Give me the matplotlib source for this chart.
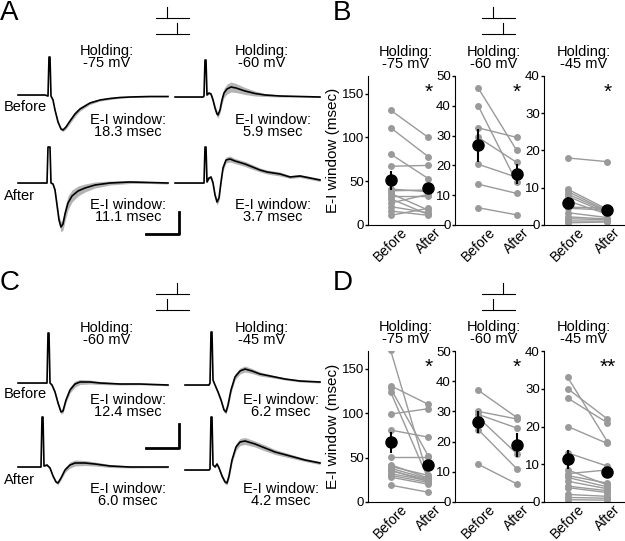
import matplotlib
matplotlib.use('Agg')
import matplotlib.pyplot as plt

plt.rcParams['font.family'] = ['Liberation Sans', 'DejaVu Sans']

W, H = 625, 541
gray = '#9a9a9a'
band = '#b4b4b4'

# ---- example traces (A, C): (time, current, sd), arbitrary units ----
a_before_75 = [(0, 0, .5), (12, 0, .5), (27, 0, .5), (30, -1, .5), (31, 38, .5), (32, 38, .5),
               (33, -1, .5), (35, -5, 1), (37, -15, 1), (40, -27, 1.5), (43, -34, 1.5),
               (45, -35, 1.5), (48, -32, 2), (52, -26, 2.5), (57, -19, 2.5), (62, -14, 2),
               (72, -8, 1.5), (82, -5, 1), (92, -3.5, 1), (102, -2.5, .7), (112, -2, .5),
               (132, -1.5, .5), (150, -1.5, .5)]
a_before_60 = [(0, 0, .5), (15, 0, .5), (28, 0, .5), (29, 1, .5), (30, 37, .5), (31, 37, .5),
               (32, 2, .5), (34, 4, 1), (36, 3, 1), (38, -3, 2), (40, -11, 3), (42, -17, 3),
               (43, -18, 3), (45, -13, 3), (47, -3, 4), (49, 4, 4.5), (52, 8, 5), (56, 10, 5),
               (61, 9, 4.5), (70, 6, 3.5), (80, 3.5, 2.5), (90, 2, 1.5), (105, 1, 1),
               (125, .5, .5), (145, 0, .5)]
a_after_75 = [(0, 0, .5), (12, 0, .5), (27, 0, .5), (29, 0, .5), (30, 36, .5), (32, 36, .5),
              (33, 0, .5), (35, -1, 1), (37, -7, 2), (39, -22, 3), (41, -37, 4), (43, -44, 5),
              (45, -41, 6), (47, -31, 7), (50, -20, 7), (54, -13, 6), (60, -8, 5), (67, -5, 4),
              (77, -2, 3), (92, 0, 2), (112, 1, 1.5), (132, .5, 1), (150, 0, 1)]
a_after_60 = [(0, 0, .5), (15, 0, .5), (28, 0, .5), (29, 0, .5), (30, 36, .5), (31, 36, .5),
              (32, 1, .5), (34, 5, 1), (36, 6, 1.5), (38, 0, 2), (40, -12, 2.5), (42, -19, 3),
              (44, -15, 3), (46, 1, 3), (48, 15, 3), (51, 23, 3), (55, 24, 3), (60, 22, 2.5),
              (70, 19, 2.5), (75, 17, 2.5), (85, 13, 2), (92, 11, 2), (105, 9, 2),
              (115, 6, 1.5), (125, 7, 1.5), (135, 5, 1.5), (145, 3, 1.5)]
c_before_60 = [(0, 0, .5), (12, 0, .5), (27, 0, .5), (29, 0, .5), (30, 50, .5), (31, 50, .5),
               (32, 0, .5), (34, -2, 1), (37, -9, 1.5), (40, -20, 2), (43, -29, 2), (45, -28, 2),
               (48, -17, 2.5), (52, -7, 3), (57, -1, 3), (62, 1, 2.5), (72, 1, 2), (82, 0, 1.5),
               (102, -1, 1), (122, -1, .8), (150, -2, .8)]
c_before_45 = [(0, 0, .5), (15, 0, .5), (24, 0, .5), (25, 2, .5), (26, 53, .5), (27, 53, .5),
               (28, 5, .5), (30, 0, 1), (33, -7, 1.5), (36, -15, 2), (39, -25, 2), (41, -27, 2),
               (43, -20, 2.5), (46, -5, 3), (50, 8, 3), (55, 14, 3), (60, 16, 3), (67, 14, 2.5),
               (75, 11, 2), (85, 9, 1.5), (100, 6, 1), (115, 4, 1), (135, 3, 1)]
c_after_60 = [(0, 0, .5), (12, 0, .5), (22, 0, .5), (23, 0, .5), (24, 50, .5), (25, 50, .5),
              (26, 1, .5), (29, 2, 1), (32, -1, 1), (35, -9, 1.5), (38, -15, 1.5), (40, -16, 1.5),
              (43, -11, 2), (47, -3, 2.5), (52, 2, 3), (57, 4, 3), (67, 4, 2.5), (77, 3, 2),
              (92, 1, 1.5), (112, 0, 1), (132, 0, .8), (150, 0, .8)]
c_after_45 = [(0, 0, .5), (15, 0, .5), (24, 0, .5), (25, 1, .5), (26, 53, .5), (27, 53, .5),
              (28, 5, .5), (30, 3, 1), (32, 6, 1), (34, 2, 1.5), (37, -6, 2), (40, -12, 2),
              (42, -13, 2), (44, -6, 2.5), (47, 10, 3), (51, 23, 3.5), (55, 28, 3.5),
              (60, 29, 3.5), (70, 26, 3), (80, 22, 3), (90, 18, 2.5), (105, 14, 2),
              (120, 10, 1.5), (135, 7, 1.5)]

# ---- paired E-I windows (msec), panels B and D ----
conds = ['Before', 'After']
b75_pre = [131, 111, 81, 67, 41, 39, 36, 33, 30, 25, 21, 16, 11]
b75_post = [100, 78, 53, 68, 38, 40, 17, 33, 12, 35, 14, 11, 19]
b60_pre = [46, 40, 32.6, 29.4, 20.4, 13.7, 5.8]
b60_post = [25, 14.3, 29.4, 21, 16, 10.6, 3.4]
b45_pre = [18, 9.6, 9.0, 8.3, 7.7, 6.5, 4.8, 4.5, 3.3, 2.2, 1.7, 1.1, 0.6]
b45_post = [17, 4.2, 3.8, 3.6, 3.2, 2.9, 4.5, 4.0, 2.0, 1.6, 1.4, 1.0, 0.8]
d75_pre = [171, 131, 128, 124, 99, 81, 51, 42, 40, 38, 35, 32, 30, 19, 36, 28]
d75_post = [28, 110, 52, 26, 105, 73, 51, 27, 30, 26, 25, 24, 22, 11, 23, 20]
d60_pre = [37, 30, 29, 28, 24, 12.5]
d60_post = [28, 27.5, 24.5, 16, 11, 6]
d45_pre = [33, 30, 27.5, 20, 13, 8.5, 7.5, 7, 6.5, 5.5, 4.2, 3.8, 2, 1.2, 0.6]
d45_post = [16, 22, 21, 15.5, 9.5, 4.5, 8.5, 5, 4, 3.5, 3, 2.5, 1.5, 1.0, 0.5]

b_means = [(51, 42), (26.8, 17.1), (5.9, 4.0)]
b_sems = [(11, 5), (5.5, 3.3), (1.5, 1.2)]
d_means = [(67, 42), (26.5, 19), (11.3, 7.9)]
d_sems = [(12, 5), (3.5, 4), (2.5, 1.5)]

fig = plt.figure(figsize=(W / 100, H / 100), dpi=100)
lay = fig.add_axes([0, 0, 1, 1])
lay.set_xlim(0, W)
lay.set_ylim(H, 0)
lay.axis('off')


def trace(tr, x0, base):
    t = [x0 + p[0] for p in tr]
    v = [base - p[1] for p in tr]
    sd = [p[2] for p in tr]
    lay.fill_between(t, [a - s for a, s in zip(v, sd)], [a + s for a, s in zip(v, sd)],
                     color=band, lw=0)
    lay.plot(t, v, color='k', lw=1.2)


def stim(x0, y0, up_first):
    # two stimulus lines with ticks
    t1, t2 = (11, 21) if up_first else (21, 11)
    lay.plot([x0, x0 + 33], [y0, y0], color='k', lw=0.8)
    lay.plot([x0 + t1] * 2, [y0, y0 - 11], color='k', lw=0.8)
    lay.plot([x0, x0 + 33], [y0 + 16, y0 + 16], color='k', lw=0.8)
    lay.plot([x0 + t2] * 2, [y0 + 16, y0 + 5], color='k', lw=0.8)


fs = 10.5
# panel A
trace(a_before_75, 18, 95)
trace(a_before_60, 175, 97)
trace(a_after_75, 18, 183)
trace(a_after_60, 175, 183)
# panel C
trace(c_before_60, 18, 383)
trace(c_before_45, 185, 385)
trace(c_after_60, 18, 467)
trace(c_after_45, 185, 470)

for dy, lab1, lab2, e1, e2, e3, e4, xr in [
        (0, '-75 mV', '-60 mV', '18.3', '5.9', '11.1', '3.7', 273),
        (277, '-60 mV', '-45 mV', '12.4', '6.2', '6.0', '4.2', 281)]:
    lay.text(107, 57 + dy, 'Holding:\n' + lab1, ha='center', va='center', fontsize=fs, linespacing=0.85)
    lay.text(262, 57 + dy, 'Holding:\n' + lab2, ha='center', va='center', fontsize=fs, linespacing=0.85)
    y1 = 126 if dy == 0 else 406
    y2 = 211 if dy == 0 else 495
    lay.text(128, y1, 'E-I window:\n%s msec' % e1, ha='center', va='center', fontsize=fs, linespacing=0.9)
    lay.text(xr, y1, 'E-I window:\n%s msec' % e2, ha='center', va='center', fontsize=fs, linespacing=0.9)
    lay.text(128, y2, 'E-I window:\n%s msec' % e3, ha='center', va='center', fontsize=fs, linespacing=0.9)
    lay.text(xr, y2, 'E-I window:\n%s msec' % e4, ha='center', va='center', fontsize=fs, linespacing=0.9)

lay.text(4, 107, 'Before', ha='left', va='center', fontsize=fs)
lay.text(4, 196, 'After', ha='left', va='center', fontsize=fs)
lay.text(4, 394, 'Before', ha='left', va='center', fontsize=fs)
lay.text(4, 480, 'After', ha='left', va='center', fontsize=fs)

# scale bars
lay.plot([146, 179, 179], [234, 234, 212], color='k', lw=2)
lay.plot([146, 179, 179], [448, 448, 424], color='k', lw=2)

stim(156, 18, True)
stim(482, 18, True)
stim(156, 294, False)
stim(482, 294, False)

for lab, x, y in [('A', 0, 13), ('B', 333, 13), ('C', 0, 283), ('D', 333, 283)]:
    lay.text(x, y, lab, ha='left', va='center', fontsize=20)


def paired(left, width, top, bottom, pre, post, mean, sem, ymax, yticks, star, title, ylabel):
    h = bottom - top
    ax = fig.add_axes([left / W, 1 - bottom / H, width / W, h / H])
    for b, a in zip(pre, post):
        ax.plot([0, 1], [b, a], color=gray, lw=1, marker='o', ms=5, mec='none', zorder=2)
    ax.errorbar([0, 1], mean, yerr=sem, fmt='o', color='k', ms=8, elinewidth=1.5,
                capsize=0, zorder=3)
    ax.set_xlim(-0.6, 1.42)
    ax.set_ylim(0, ymax)
    ax.set_yticks(yticks)
    ax.set_xticks([0, 1])
    ax.set_xticklabels(conds, rotation=45, fontsize=10)
    ax.tick_params(axis='x', length=0, pad=0)
    ax.tick_params(axis='y', length=2.5, width=1, pad=0.5, labelsize=9.5)
    for s in ['top', 'right']:
        ax.spines[s].set_visible(False)
    ax.patch.set_alpha(0)
    ax.text(1, 1 - 16 / h, star, transform=ax.get_xaxis_transform(),
            ha='center', va='center', fontsize=15)
    ax.text(0.5, 1 + 18 / h, 'Holding:\n' + title,
            transform=ax.transAxes, ha='center', va='center', fontsize=fs, linespacing=0.85)
    if ylabel:
        ax.text(333, bottom - h / 2, 'E-I window (msec)', transform=lay.transData,
                rotation=90, ha='center', va='center', fontsize=11)
    return ax


panels = [('B', 76, 225, [b75_pre, b60_pre, b45_pre], [b75_post, b60_post, b45_post],
           b_means, b_sems, ['*', '*', '*']),
          ('D', 351, 502, [d75_pre, d60_pre, d45_pre], [d75_post, d60_post, d45_post],
           d_means, d_sems, ['*', '*', '**'])]
lefts = [368, 455, 544]
widths = [76, 78, 80]
ymaxs = [170, 50, 40]
ytk = [[0, 50, 100, 150], [0, 10, 20, 30, 40, 50], [0, 10, 20, 30, 40]]
titles = ['-75 mV', '-60 mV', '-45 mV']
for name, top, bottom, pres, posts, means, sems, stars in panels:
    for i in range(3):
        paired(lefts[i], widths[i], top, bottom, pres[i], posts[i], means[i], sems[i],
               ymaxs[i], ytk[i], stars[i], titles[i], i == 0)

fig.savefig('out.png', dpi=100)
